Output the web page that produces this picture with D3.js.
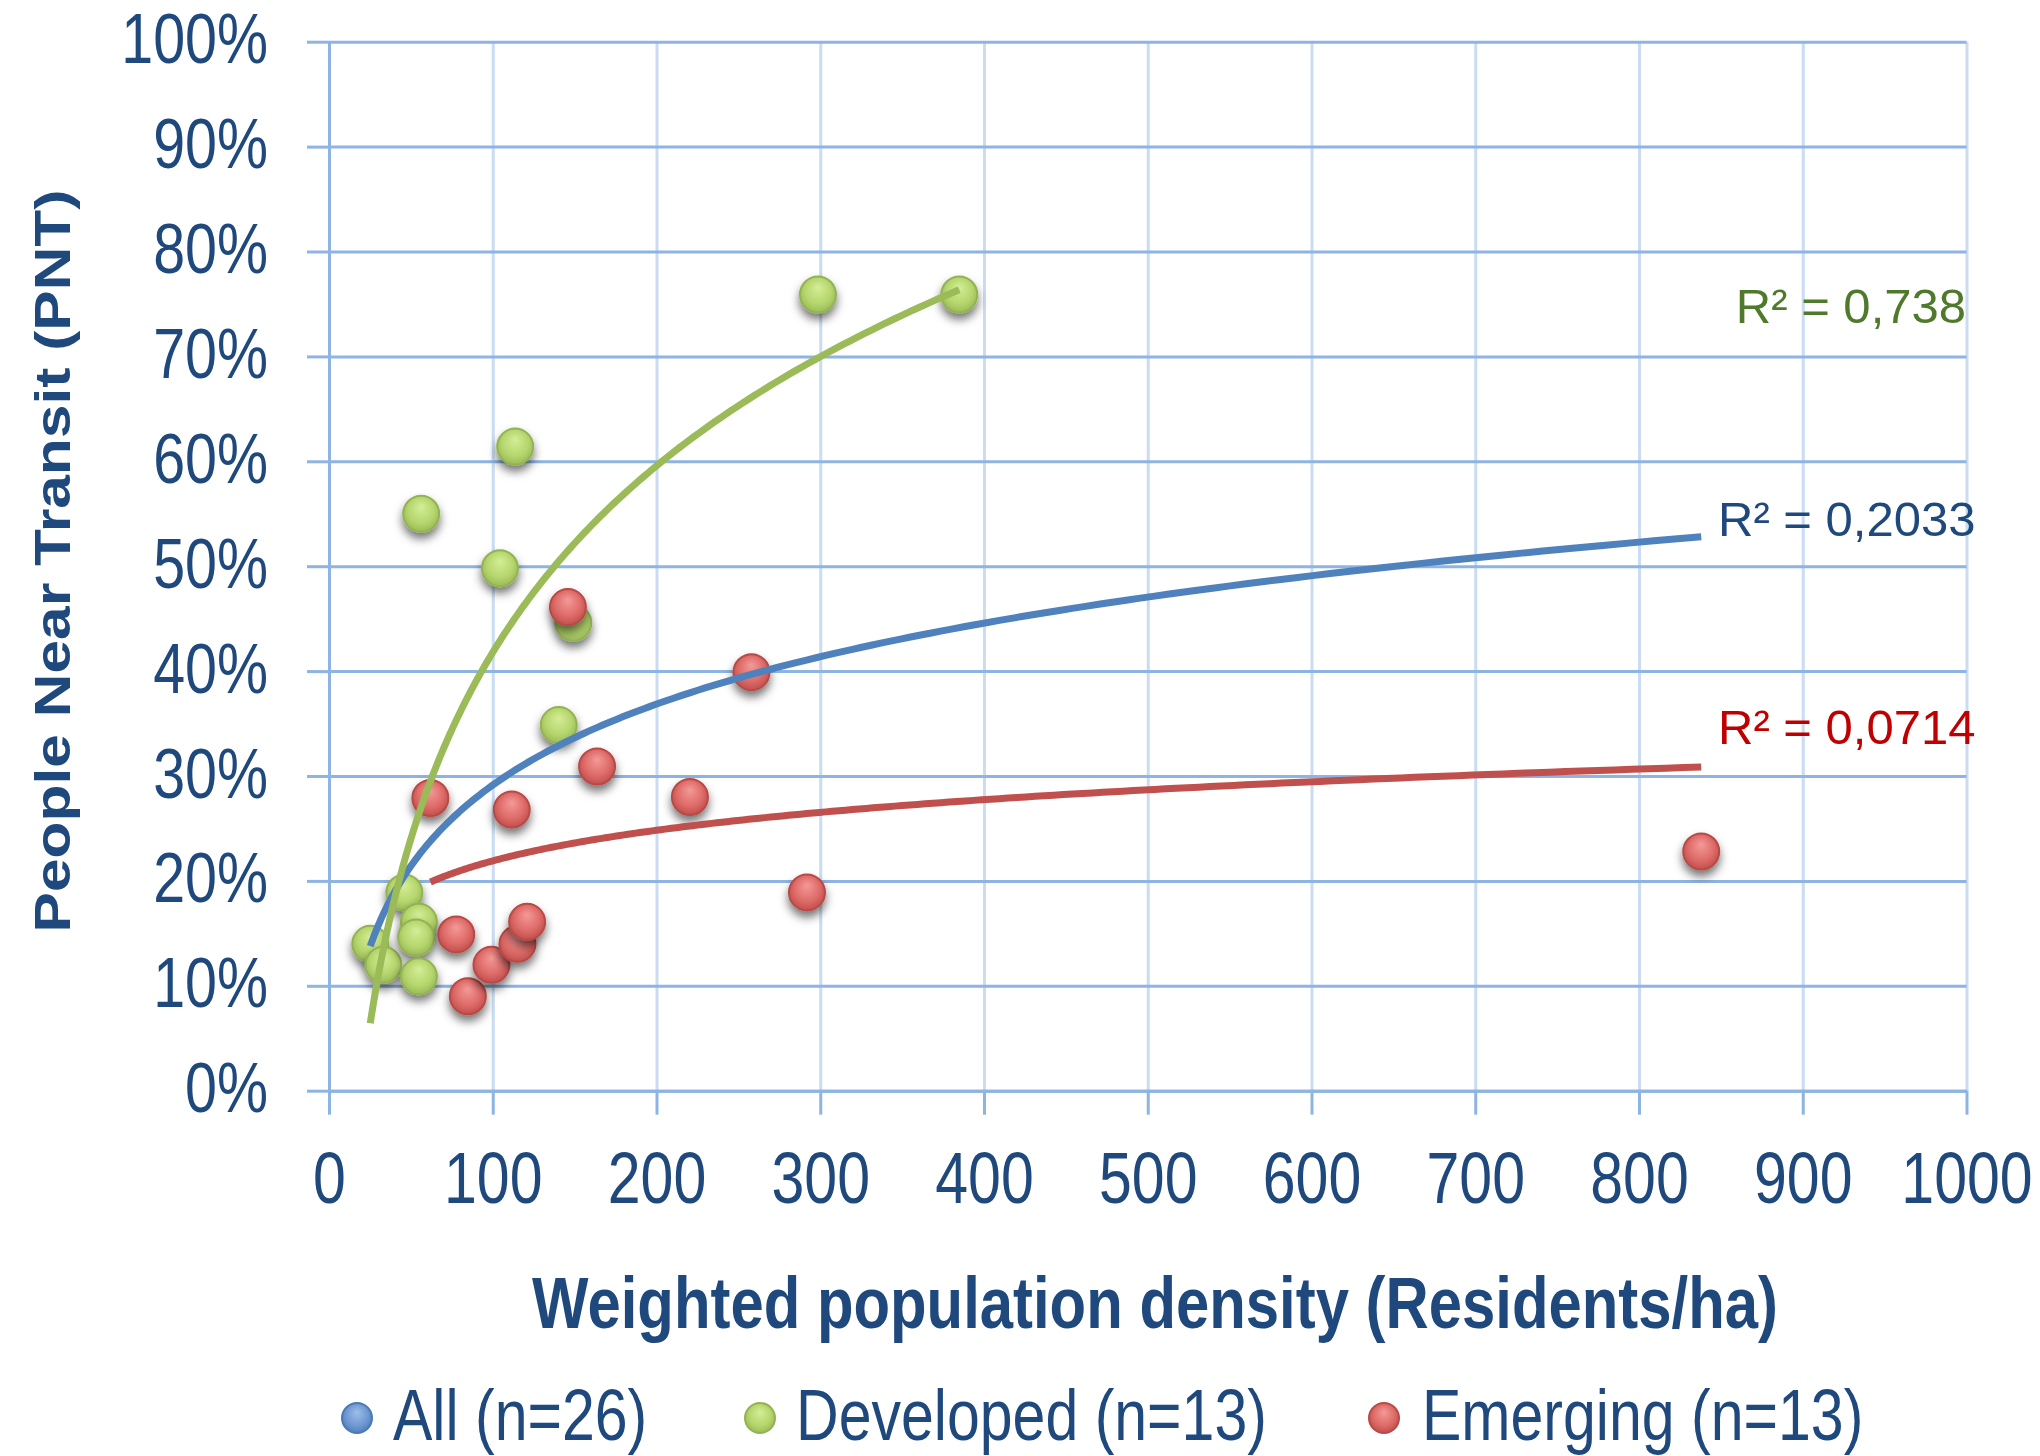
<!DOCTYPE html>
<html><head><meta charset="utf-8">
<script src="https://cdn.jsdelivr.net/npm/d3@7"></script>
<style>html,body{margin:0;padding:0;background:#fff}svg{display:block}</style>
</head><body>
<script>
// ---- data ----
const developedX = [25.2, 33.2, 46.0, 54.9, 53.2, 54.9, 56.3, 104.4, 113.7, 140.3, 149.2, 298.6, 384.9];
const developedY = [0.140, 0.120, 0.189, 0.161, 0.146, 0.109, 0.550, 0.498, 0.614, 0.3485, 0.446, 0.759, 0.759];
const emergingX = [61.9, 77.7, 84.8, 99.2, 111.6, 115.1, 121.0, 145.9, 163.7, 220.4, 258.0, 291.9, 838.0];
const emergingY = [0.279, 0.149, 0.090, 0.120, 0.268, 0.140, 0.161, 0.461, 0.309, 0.280, 0.399, 0.189, 0.228];
const xTicks = [0, 100, 200, 300, 400, 500, 600, 700, 800, 900, 1000];
const yTicks = [0, 0.1, 0.2, 0.3, 0.4, 0.5, 0.6, 0.7, 0.8, 0.9, 1.0];
const seriesNames = ["All (n=26)", "Developed (n=13)", "Emerging (n=13)"];
const r2Labels = ["R² = 0,2033", "R² = 0,738", "R² = 0,0714"];
const xTitle = "Weighted population density (Residents/ha)";
const yTitle = "People Near Transit (PNT)";

// ---- setup ----
const W = 2040, H = 1456;
const TXT = "#1F497D";
const GRID_H = "#8DB4E2", GRID_V = "#C9DCF2";
const COLORS = {all: "#4F81BD", dev: "#9BBB59", emg: "#C0504D"};
const FONT = "'Liberation Sans', Arial, sans-serif";

const svg = d3.select("body").append("svg").attr("width", W).attr("height", H);
const defs = svg.append("defs");

const x = d3.scaleLinear().domain([0, 1000]).range([329, 1966.5]);
const y = d3.scaleLinear().domain([0, 1]).range([1090.7, 41.7]);

// gradients + shadow
function grad(id, light, mid, base) {
  const g = defs.append("radialGradient").attr("id", id)
    .attr("cx", "50%").attr("cy", "45%").attr("r", "55%").attr("fx", "50%").attr("fy", "30%");
  g.append("stop").attr("offset", "0%").attr("stop-color", light);
  g.append("stop").attr("offset", "65%").attr("stop-color", mid);
  g.append("stop").attr("offset", "100%").attr("stop-color", base);
}
grad("gAll", "#9DBEEA", "#7199D2", "#4F81BD");
grad("gDev", "#D4EE96", "#B6D66E", "#9BBB59");
grad("gEmg", "#F39A98", "#DE6B68", "#C0504D");
const f = defs.append("filter").attr("id", "shadow").attr("x", "-60%").attr("y", "-60%").attr("width", "220%").attr("height", "240%");
f.append("feDropShadow").attr("dx", 0).attr("dy", 6).attr("stdDeviation", 5)
  .attr("flood-color", "#000").attr("flood-opacity", 0.55);

// ---- gridlines ----
const plotW = x(1000) - x(0), plotH = y(0) - y(1);
const vGrid = svg.append("g").attr("transform", `translate(0,${y(0)})`)
  .call(d3.axisBottom(x).tickValues(xTicks).tickSize(-plotH).tickFormat(""));
vGrid.select(".domain").remove();
vGrid.selectAll("line").attr("stroke", GRID_V).attr("stroke-width", 3);

const hGrid = svg.append("g").attr("transform", `translate(${x(0)},0)`)
  .call(d3.axisLeft(y).tickValues(yTicks).tickSize(-plotW).tickFormat(""));
hGrid.select(".domain").remove();
hGrid.selectAll("line").attr("stroke", GRID_H).attr("stroke-width", 3);

// ---- axes ----
const yAxis = svg.append("g").attr("transform", `translate(${x(0)},0)`)
  .call(d3.axisLeft(y).tickValues(yTicks).tickSize(22).tickSizeOuter(0).tickFormat(d3.format(".0%")));
yAxis.select(".domain").attr("stroke", GRID_H).attr("stroke-width", 3);
yAxis.selectAll("line").attr("stroke", GRID_H).attr("stroke-width", 3);
yAxis.selectAll("text")
  .attr("x", 0).attr("dy", null).attr("text-anchor", "end")
  .attr("transform", "translate(-61,21) scale(0.82,1)")
  .attr("fill", TXT).style("font-family", FONT).style("font-size", "70px");

const xAxis = svg.append("g").attr("transform", `translate(0,${y(0)})`)
  .call(d3.axisBottom(x).tickValues(xTicks).tickSize(24).tickSizeOuter(0).tickFormat(d3.format("d")));
xAxis.select(".domain").attr("stroke", GRID_H).attr("stroke-width", 3);
xAxis.selectAll("line").attr("stroke", GRID_H).attr("stroke-width", 3);
xAxis.selectAll("text")
  .attr("y", 0).attr("dy", null).attr("text-anchor", "middle")
  .attr("transform", "translate(0,112) scale(0.82,1)")
  .attr("fill", TXT).style("font-family", FONT).style("font-size", "72px");
svg.selectAll("g").attr("font-family", null);

// ---- titles ----
svg.append("g").attr("transform", "translate(1155,1328) scale(0.82,1)")
  .append("text").attr("text-anchor", "middle").attr("fill", TXT)
  .style("font-family", FONT).style("font-size", "73px").style("font-weight", "bold")
  .text(xTitle);
svg.append("g").attr("transform", "translate(52,561) scale(0.82,1) rotate(-90)")
  .append("text").attr("text-anchor", "middle").attr("dy", "0.36em").attr("fill", TXT)
  .style("font-family", FONT).style("font-size", "60.5px").style("font-weight", "bold")
  .text(yTitle);

// ---- points ----
const dev = developedX.map((v, i) => ({x: v, y: developedY[i]}));
const emg = emergingX.map((v, i) => ({x: v, y: emergingY[i]}));
const all = dev.concat(emg);

function drawDots(data, fillId, stroke) {
  svg.append("g").selectAll("circle").data(data).join("circle")
    .attr("cx", d => x(d.x)).attr("cy", d => y(d.y)).attr("r", 18)
    .attr("fill", `url(#${fillId})`).attr("stroke", stroke).attr("stroke-width", 2)
    .attr("filter", "url(#shadow)");
}
drawDots(dev, "gDev", "#93B352");
drawDots(emg, "gEmg", "#B84A47");

// ---- logarithmic trendlines ----
function logFit(data) {
  const lx = data.map(d => Math.log(d.x)), ys = data.map(d => d.y);
  const mx = d3.mean(lx), my = d3.mean(ys);
  let sxy = 0, sxx = 0;
  lx.forEach((v, i) => { sxy += (v - mx) * (ys[i] - my); sxx += (v - mx) * (v - mx); });
  const b = sxy / sxx, a = my - b * mx;
  const [x0, x1] = d3.extent(data, d => d.x);
  return d3.range(0, 201).map(i => {
    const xv = Math.exp(Math.log(x0) + (Math.log(x1) - Math.log(x0)) * i / 200);
    return [xv, a + b * Math.log(xv)];
  });
}
const line = d3.line().x(d => x(d[0])).y(d => y(d[1]));
function drawTrend(data, color) {
  svg.append("path").attr("d", line(logFit(data))).attr("fill", "none")
    .attr("stroke", color).attr("stroke-width", 7).attr("stroke-linecap", "butt");
}
drawTrend(all, COLORS.all);
drawTrend(emg, COLORS.emg);
drawTrend(dev, COLORS.dev);

// ---- R² labels ----
const lab = (t, xx, yy, anchor, col) => svg.append("text").attr("x", xx).attr("y", yy)
  .attr("text-anchor", anchor).attr("fill", col)
  .style("font-family", FONT).style("font-size", "49px").text(t);
lab(r2Labels[1], 1966, 323, "end", "#4F7A2B");
lab(r2Labels[0], 1718, 536, "start", "#1F497D");
lab(r2Labels[2], 1718, 744, "start", "#C00000");

// ---- legend ----
const legend = [
  {name: seriesNames[0], fill: "gAll", stroke: "#4A7AB5", mx: 357, tx: 393},
  {name: seriesNames[1], fill: "gDev", stroke: "#93B352", mx: 760, tx: 796},
  {name: seriesNames[2], fill: "gEmg", stroke: "#B84A47", mx: 1384, tx: 1422}
];
const lg = svg.append("g").selectAll("g").data(legend).join("g");
lg.append("circle").attr("cx", d => d.mx).attr("cy", 1418).attr("r", 15)
  .attr("fill", d => `url(#${d.fill})`).attr("stroke", d => d.stroke).attr("stroke-width", 2);
lg.append("g").attr("transform", d => `translate(${d.tx},1440) scale(0.82,1)`)
  .append("text").attr("fill", TXT).style("font-family", FONT).style("font-size", "72px")
  .text(d => d.name);
</script>
</body></html>
